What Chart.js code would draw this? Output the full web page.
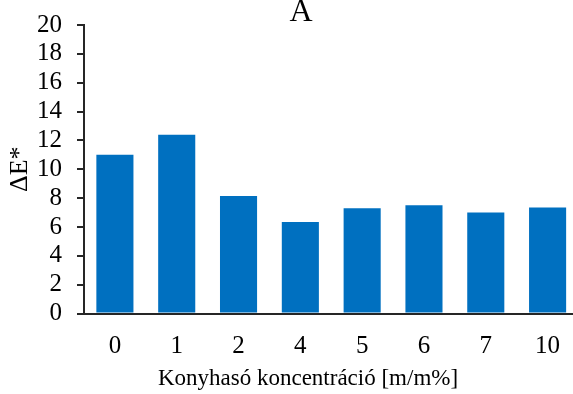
<!DOCTYPE html>
<html>
<head>
<meta charset="utf-8">
<script src="https://cdn.jsdelivr.net/npm/chart.js@4/dist/chart.umd.min.js"></script>
<style>
  html, body { margin: 0; padding: 0; background: #fff; overflow: hidden; }
  #wrap { position: relative; width: 580px; height: 394px; }
</style>
</head>
<body>
<div id="wrap"><canvas id="c" width="580" height="394"></canvas></div>
<script>
const categories = ['0', '1', '2', '4', '5', '6', '7', '10'];
const deltaE = [11.0, 12.4, 8.15, 6.35, 7.3, 7.5, 7.0, 7.35];
const chartTitle = 'A';
const xTitle = 'Konyhasó koncentráció [m/m%]';
const yTitle = 'ΔE*';
const yMin = 0, yMax = 20, yStep = 2;

const FONT = '"Liberation Serif", "Times New Roman", serif';
const AXIS = '#262626';

const textPlugin = {
  id: 'textPlugin',
  afterDraw(chart) {
    const ctx = chart.ctx;
    ctx.save();
    ctx.fillStyle = '#000';
    ctx.textAlign = 'center';
    ctx.textBaseline = 'alphabetic';
    ctx.font = '32px ' + FONT;
    ctx.fillText(chartTitle, 301, 21);
    ctx.font = '23px ' + FONT;
    ctx.fillText(xTitle, 308, 385);
    ctx.restore();
  }
};

new Chart(document.getElementById('c'), {
  type: 'bar',
  data: {
    labels: categories,
    datasets: [{
      data: deltaE,
      backgroundColor: '#0070C0',
      borderWidth: 0,
      categoryPercentage: 1.0,
      barPercentage: 0.6
    }]
  },
  options: {
    responsive: false,
    animation: false,
    devicePixelRatio: 1,
    layout: { padding: { left: 0, right: 1.5, top: 25, bottom: 0 } },
    plugins: { legend: { display: false }, tooltip: { enabled: false }, title: { display: false } },
    scales: {
      x: {
        grid: { display: false },
        border: { display: true, color: AXIS, width: 2 },
        ticks: { color: '#000', font: { family: FONT, size: 25 }, padding: 10, maxRotation: 0, autoSkip: false },
        afterFit(scale) { scale.height = 80.5; scale.paddingLeft = 0; scale.paddingRight = 0; }
      },
      y: {
        min: yMin, max: yMax,
        grid: { display: true, drawOnChartArea: false, drawTicks: true, tickLength: 7, color: AXIS, lineWidth: 2 },
        border: { display: true, color: AXIS, width: 2 },
        ticks: { stepSize: yStep, color: '#000', font: { family: FONT, size: 25 }, padding: 15, autoSkip: false },
        title: { display: true, text: yTitle, color: '#000', font: { family: FONT, size: 26 }, padding: { top: 5, bottom: 0 } },
        afterFit(scale) { scale.width = 84; scale.paddingTop = 0; scale.paddingBottom = 0; }
      }
    }
  },
  plugins: [textPlugin]
});
</script>
</body>
</html>
